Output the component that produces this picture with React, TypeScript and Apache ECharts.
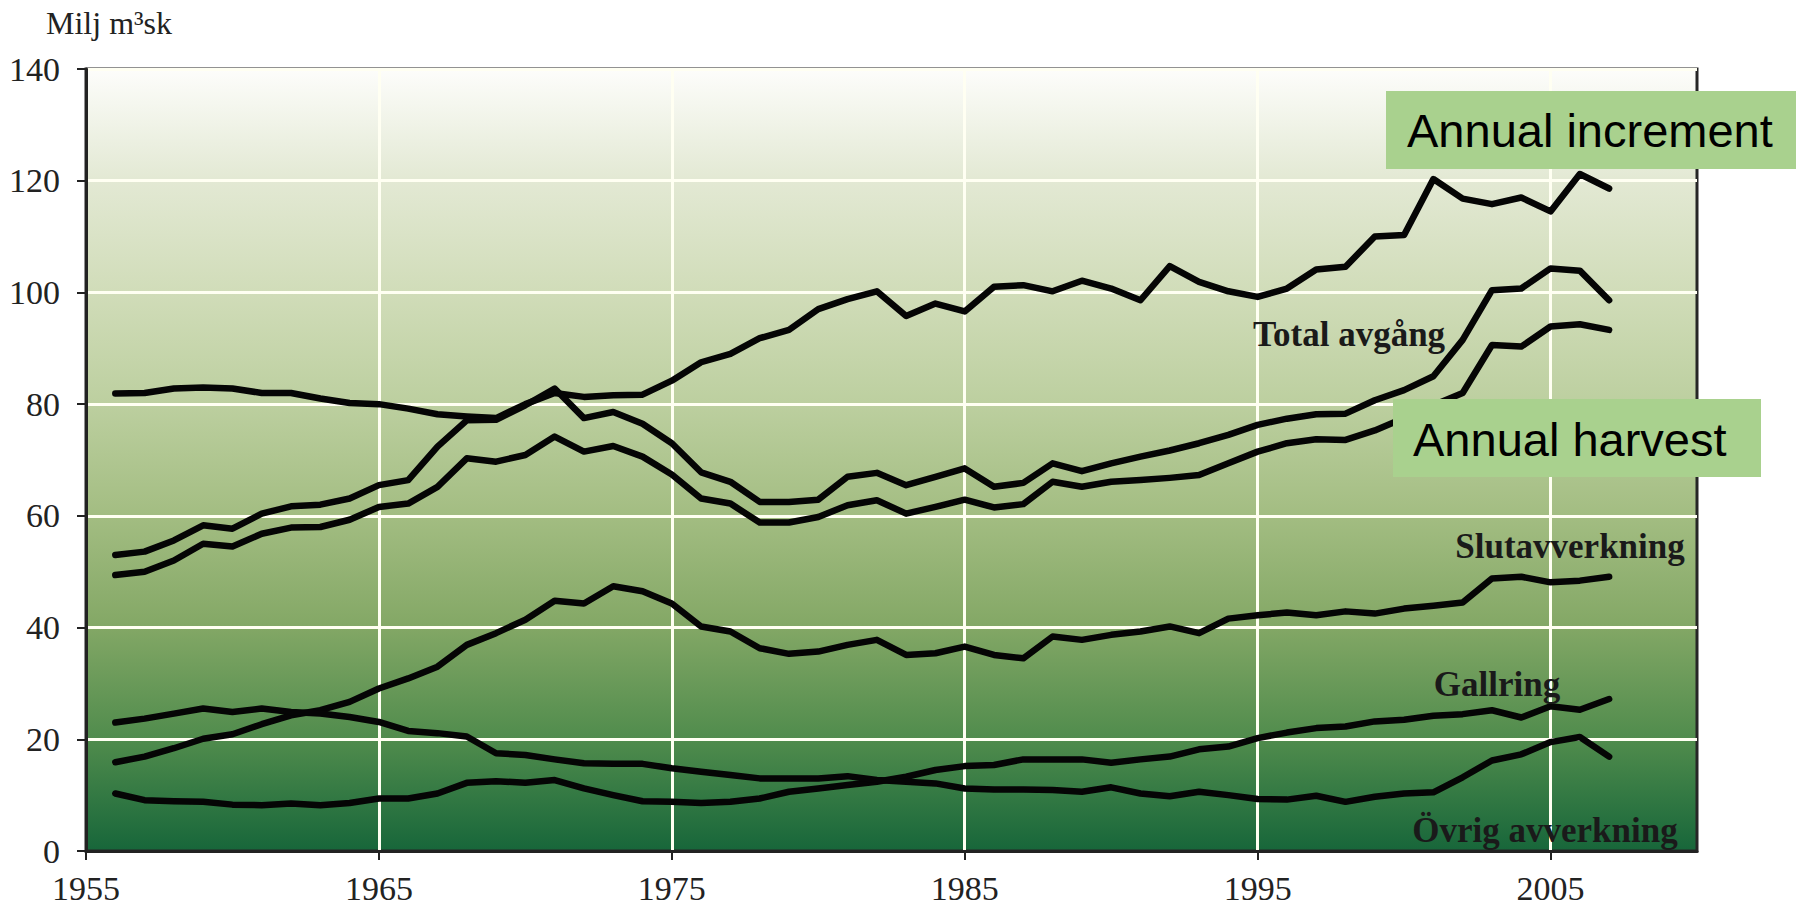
import { useEffect, useRef } from "react";
import * as echarts from "echarts";

const years = [
  1956, 1957, 1958, 1959, 1960, 1961, 1962, 1963, 1964, 1965,
  1966, 1967, 1968, 1969, 1970, 1971, 1972, 1973, 1974, 1975,
  1976, 1977, 1978, 1979, 1980, 1981, 1982, 1983, 1984, 1985,
  1986, 1987, 1988, 1989, 1990, 1991, 1992, 1993, 1994, 1995,
  1996, 1997, 1998, 1999, 2000, 2001, 2002, 2003, 2004, 2005,
  2006, 2007,
];

const annualIncrement = [
  81.9, 82, 82.8, 83, 82.8, 82, 82, 81, 80.2, 80,
  79.2, 78.2, 77.8, 77.5, 80, 82, 81.3, 81.6, 81.7, 84.2,
  87.5, 89, 91.8, 93.3, 97, 98.8, 100.2, 95.8, 98, 96.6,
  101, 101.3, 100.2, 102.1, 100.7, 98.6, 104.7, 101.9, 100.2, 99.2,
  100.7, 104.1, 104.6, 110, 110.3, 120.3, 116.8, 115.8, 117, 114.5,
  121.2, 118.6,
];

const totalAvgang = [
  53, 53.6, 55.6, 58.3, 57.7, 60.4, 61.7, 62, 63.1, 65.5,
  66.4, 72.4, 77.1, 77.2, 79.8, 82.8, 77.5, 78.6, 76.5, 73,
  67.8, 66.1, 62.5, 62.5, 62.9, 67, 67.7, 65.5, 67, 68.5,
  65.2, 65.9, 69.4, 68, 69.4, 70.6, 71.7, 73, 74.5, 76.3,
  77.4, 78.2, 78.3, 80.7, 82.5, 85, 91.5, 100.4, 100.7, 104.3,
  103.9, 98.6,
];

const annualHarvest = [
  49.4, 50, 52, 55, 54.5, 56.8, 57.9, 58, 59.3, 61.6,
  62.2, 65.2, 70.3, 69.7, 70.9, 74.2, 71.5, 72.5, 70.6, 67.4,
  63.1, 62.2, 58.8, 58.8, 59.8, 61.9, 62.8, 60.4, 61.6, 62.9,
  61.5, 62.1, 66.1, 65.2, 66.1, 66.4, 66.8, 67.3, 69.4, 71.5,
  73, 73.7, 73.6, 75.3, 77.5, 79.8, 82, 90.6, 90.3, 93.9,
  94.3, 93.3,
];

const slutavverkning = [
  15.9, 16.9, 18.4, 20.1, 20.9, 22.7, 24.3, 25.2, 26.7, 29.1,
  30.9, 33, 36.9, 39, 41.4, 44.8, 44.3, 47.4, 46.5, 44.3,
  40.2, 39.3, 36.3, 35.3, 35.7, 36.9, 37.8, 35.1, 35.4, 36.6,
  35.1, 34.5, 38.4, 37.8, 38.7, 39.3, 40.2, 39, 41.6, 42.2,
  42.7, 42.2, 42.9, 42.5, 43.4, 43.9, 44.5, 48.8, 49.1, 48.1,
  48.4, 49.1,
];

const gallring = [
  10.3, 9.1, 8.9, 8.8, 8.3, 8.2, 8.5, 8.2, 8.6, 9.4,
  9.4, 10.3, 12.2, 12.5, 12.2, 12.7, 11.2, 10, 8.9, 8.8,
  8.6, 8.8, 9.4, 10.6, 11.2, 11.8, 12.4, 13.3, 14.5, 15.2,
  15.4, 16.4, 16.4, 16.4, 15.8, 16.4, 16.9, 18.2, 18.7, 20.2,
  21.2, 22, 22.3, 23.2, 23.5, 24.2, 24.5, 25.2, 23.9, 25.9,
  25.3, 27.2,
];

const ovrigAvverkning = [
  23, 23.7, 24.6, 25.5, 24.9, 25.5, 24.9, 24.6, 24, 23.1,
  21.5, 21.1, 20.5, 17.5, 17.2, 16.4, 15.7, 15.6, 15.6, 14.8,
  14.2, 13.6, 13, 13, 13, 13.4, 12.7, 12.4, 12.1, 11.2,
  11, 11, 10.9, 10.6, 11.4, 10.3, 9.8, 10.6, 10, 9.3,
  9.2, 9.9, 8.8, 9.7, 10.3, 10.5, 13.2, 16.2, 17.3, 19.5,
  20.4, 16.9,
];

const xTickValues = [1955, 1965, 1975, 1985, 1995, 2005];

const seriesList = [
  { name: "Annual increment", values: annualIncrement },
  { name: "Total avgång", values: totalAvgang },
  { name: "Annual harvest", values: annualHarvest },
  { name: "Slutavverkning", values: slutavverkning },
  { name: "Gallring", values: gallring },
  { name: "Övrig avverkning", values: ovrigAvverkning },
];

export default function App() {
  const ref = useRef<HTMLDivElement | null>(null);

  useEffect(() => {
    if (!ref.current) return;
    const chart = echarts.init(ref.current, undefined, { renderer: "svg" });

    const bg = new echarts.graphic.LinearGradient(0, 0, 0, 1, [
      { offset: 0, color: "#fdfdfb" },
      { offset: 0.14, color: "#e3e9d4" },
      { offset: 0.29, color: "#d0dcb8" },
      { offset: 0.43, color: "#bccf9f" },
      { offset: 0.57, color: "#a3bd82" },
      { offset: 0.71, color: "#84a866" },
      { offset: 0.86, color: "#4f8b4c" },
      { offset: 1, color: "#17663a" },
    ]);

    const serifLabel = {
      fontFamily: "Liberation Serif",
      fontSize: 34,
      color: "#222222",
    };

    const boldLabel = (text: string, x: number, y: number) => ({
      type: "text",
      x,
      y,
      z: 50,
      style: {
        text,
        fill: "#1a1a1a",
        font: "bold 35px 'Liberation Serif'",
        textAlign: "center",
        textVerticalAlign: "middle",
      },
    });

    chart.setOption({
      animation: false,
      backgroundColor: "#ffffff",
      grid: {
        left: 86,
        top: 69,
        width: 1611,
        height: 782,
        show: true,
        backgroundColor: bg,
        borderColor: "#262626",
        borderWidth: 3,
      },
      xAxis: {
        type: "value",
        min: 1955,
        max: 2010,
        interval: 10,
        axisLine: { show: true, onZero: false, lineStyle: { color: "#222222", width: 3 } },
        axisTick: {
          show: true,
          length: 9,
          customValues: xTickValues,
          lineStyle: { color: "#222222", width: 2 },
        },
        axisLabel: {
          ...serifLabel,
          margin: 20,
          customValues: xTickValues,
          formatter: (v: number) => String(v),
        },
        splitLine: { show: true, lineStyle: { color: "#fffff2", width: 3 } },
      },
      yAxis: {
        type: "value",
        min: 0,
        max: 140,
        interval: 20,
        axisLine: { show: true, lineStyle: { color: "#222222", width: 3 } },
        axisTick: { show: true, length: 9, lineStyle: { color: "#222222", width: 2 } },
        axisLabel: { ...serifLabel, margin: 26 },
        splitLine: { show: true, lineStyle: { color: "#fffff2", width: 3 } },
      },
      series: seriesList.map((s) => ({
        name: s.name,
        type: "line",
        data: years.map((y, i) => [y, s.values[i]]),
        showSymbol: false,
        symbol: "none",
        lineStyle: { color: "#050505", width: 6.5, join: "round", cap: "round" },
        z: 3,
      })),
      graphic: [
        {
          type: "text",
          x: 46,
          y: 23,
          style: {
            text: "Milj m³sk",
            fill: "#222222",
            font: "32px 'Liberation Serif'",
            textAlign: "left",
            textVerticalAlign: "middle",
          },
        },
        boldLabel("Total avgång", 1349, 334),
        boldLabel("Slutavverkning", 1570, 546),
        boldLabel("Gallring", 1497, 684),
        boldLabel("Övrig avverkning", 1545, 830),
        {
          type: "rect",
          z: 100,
          shape: { x: 1386, y: 91, width: 420, height: 78 },
          style: { fill: "#a9d18e" },
        },
        {
          type: "text",
          z: 101,
          x: 1407,
          y: 130,
          style: {
            text: "Annual increment",
            fill: "#000000",
            font: "47px 'Liberation Sans'",
            textAlign: "left",
            textVerticalAlign: "middle",
          },
        },
        {
          type: "rect",
          z: 100,
          shape: { x: 1393, y: 399, width: 368, height: 78 },
          style: { fill: "#a9d18e" },
        },
        {
          type: "text",
          z: 101,
          x: 1413,
          y: 439,
          style: {
            text: "Annual harvest",
            fill: "#000000",
            font: "47px 'Liberation Sans'",
            textAlign: "left",
            textVerticalAlign: "middle",
          },
        },
      ],
    });

    return () => {
      chart.dispose();
    };
  }, []);

  return (
    <div
      ref={ref}
      style={{
        position: "fixed",
        left: 0,
        top: 0,
        width: 1796,
        height: 910,
        background: "#ffffff",
      }}
    />
  );
}
